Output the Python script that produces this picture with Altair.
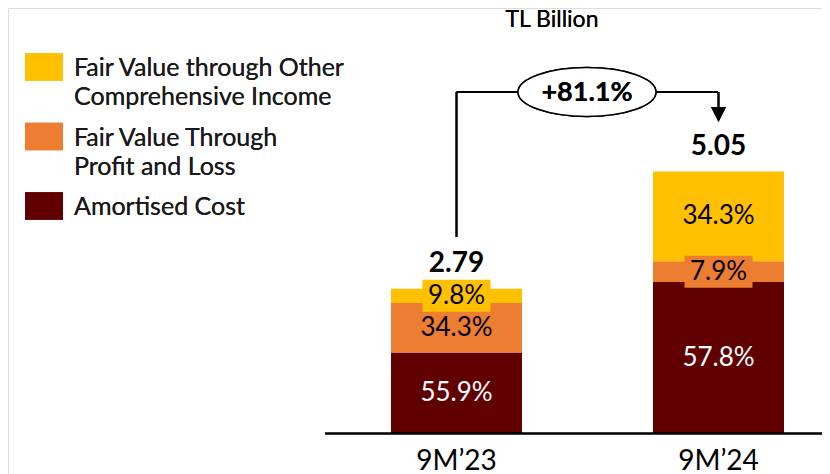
import altair as alt
import pandas as pd

# ---------------- data ----------------
periods = ["9M’23", "9M’24"]
totals = [2.79, 5.05]
components = [
    "Amortised Cost",
    "Fair Value Through Profit and Loss",
    "Fair Value through Other Comprehensive Income",
]
shares_9m23 = [55.9, 34.3, 9.8]
shares_9m24 = [57.8, 7.9, 34.3]
growth_label = "+81.1%"
unit_label = "TL Billion"
legend_lines = [
    ["Fair Value through Other", "Comprehensive Income"],
    ["Fair Value Through", "Profit and Loss"],
    ["Amortised Cost"],
]
legend_components = [components[2], components[1], components[0]]

# ---------------- styling ----------------
colors = ["#600000", "#ED7D31", "#FFC000"]
label_colors = ["white", "black", "black"]
FONT = "Lato"

W, H = 814, 466
PX_PER_UNIT = 51.88
BASE_PX = 425.5
y_scale = alt.Scale(domain=[-(H - BASE_PX) / PX_PER_UNIT, BASE_PX / PX_PER_UNIT],
                    nice=False, zero=False)
x_scale = alt.Scale(domain=periods, range=[383, 776], paddingInner=0.5, paddingOuter=0)

rows = []
for p, tot, shares in zip(periods, totals, [shares_9m23, shares_9m24]):
    cum = 0.0
    for i, (c, s) in enumerate(zip(components, shares)):
        v = tot * s / 100.0
        rows.append(dict(period=p, component=c, share=s, y0=cum, y1=cum + v,
                         mid=cum + v / 2, label=f"{s:.1f}%", lcolor=label_colors[i],
                         fill=colors[i], small=v < 0.6))
        cum += v
seg = pd.DataFrame(rows)
tot_df = pd.DataFrame(dict(period=periods, total=totals,
                           label=[f"{t:.2f}" for t in totals]))

X = alt.X("period:N", scale=x_scale, axis=None)

bars = alt.Chart(seg).mark_bar().encode(
    x=X,
    y=alt.Y("y0:Q", scale=y_scale, axis=None),
    y2="y1:Q",
    color=alt.Color("component:N", scale=alt.Scale(domain=components, range=colors), legend=None),
)

label_bg = alt.Chart(seg).transform_filter("datum.small").mark_point(
    shape="M-1,-0.47H1V0.47H-1Z", size=4624, filled=True, opacity=1, strokeWidth=0
).encode(
    x=X,
    y=alt.Y("mid:Q", scale=y_scale, axis=None),
    fill=alt.Fill("fill:N", scale=None),
)

seg_labels = alt.Chart(seg).mark_text(font=FONT, fontSize=26, baseline="middle").encode(
    x=X,
    y=alt.Y("mid:Q", scale=y_scale, axis=None),
    text="label:N",
    color=alt.Color("lcolor:N", scale=None),
)

tot_labels = alt.Chart(tot_df).mark_text(
    font=FONT, fontSize=28, fontWeight="bold", baseline="middle", dy=-25, color="black"
).encode(
    x=X,
    y=alt.Y("total:Q", scale=y_scale, axis=None),
    text="label:N",
)

cat_labels = alt.Chart(tot_df).mark_text(
    font=FONT, fontSize=28, baseline="middle", color="black"
).encode(
    x=X,
    y=alt.value(454),
    text="period:N",
)

baseline = alt.Chart(tot_df).mark_rule(color="black", strokeWidth=2).encode(
    y=alt.datum(0, scale=y_scale),
    x=alt.value(317),
    x2=alt.value(W),
)

unit_txt = alt.Chart(tot_df).mark_text(
    font=FONT, fontSize=23, color="black", baseline="middle"
).encode(x=alt.value(544), y=alt.value(11.5), text=alt.value(unit_label))

# ---- growth bracket ----
BR_Y = 84
left_v = alt.Chart(tot_df).mark_rule(color="black", strokeWidth=2).encode(
    x=alt.datum(periods[0], scale=x_scale), y=alt.value(BR_Y), y2=alt.value(229)
)
right_v = alt.Chart(tot_df).mark_rule(color="black", strokeWidth=2).encode(
    x=alt.datum(periods[1], scale=x_scale), y=alt.value(BR_Y), y2=alt.value(101)
)
horiz = alt.Chart(tot_df).mark_rule(color="black", strokeWidth=2).encode(
    x=alt.value(448.5), x2=alt.value(710), y=alt.value(BR_Y)
)
arrow = alt.Chart(tot_df).mark_point(
    shape="M-1,-1L1,-1L0,1Z", size=225, filled=True, color="black", opacity=1
).encode(x=alt.datum(periods[1], scale=x_scale), y=alt.value(106.5))
ellipse = alt.Chart(tot_df).mark_point(
    shape="M-1,0A1,0.355,0,1,0,1,0A1,0.355,0,1,0,-1,0Z", size=138 * 138,
    filled=False, fill="white", fillOpacity=1, stroke="black", strokeWidth=1.5, opacity=1
).encode(x=alt.value(579), y=alt.value(BR_Y))
growth_txt = alt.Chart(tot_df).mark_text(
    font=FONT, fontSize=27, fontWeight="bold", baseline="middle", color="black"
).encode(x=alt.value(579), y=alt.value(BR_Y + 1), text=alt.value(growth_label))

# ---- legend (manual) ----
legend_layers = []
LEG_Y0, LEG_STEP, LINE_H = 59, 69.5, 29
for i, (comp, lines) in enumerate(zip(legend_components, legend_lines)):
    cy = LEG_Y0 + LEG_STEP * i
    col = colors[components.index(comp)]
    legend_layers.append(
        alt.Chart(tot_df).mark_point(
            shape="M-1,-0.72H1V0.72H-1Z", size=38 * 38, filled=True, color=col,
            opacity=1, strokeWidth=0
        ).encode(x=alt.value(36), y=alt.value(cy))
    )
    for j, ln in enumerate(lines):
        legend_layers.append(
            alt.Chart(tot_df).mark_text(
                font=FONT, fontSize=25, align="left", baseline="middle", color="#1a1a1a"
            ).encode(x=alt.value(66), y=alt.value(cy + 1 + LINE_H * j), text=alt.value(ln))
        )

chart = alt.layer(
    bars, label_bg, seg_labels, tot_labels, cat_labels, baseline, unit_txt,
    left_v, right_v, horiz, arrow, ellipse, growth_txt, *legend_layers
).properties(
    width=W, height=H, padding=0, autosize=alt.AutoSizeParams(type="none")
).configure_view(strokeWidth=0).configure(background="white")

chart.save("out.html", embed_options={"renderer": "svg", "actions": False})
